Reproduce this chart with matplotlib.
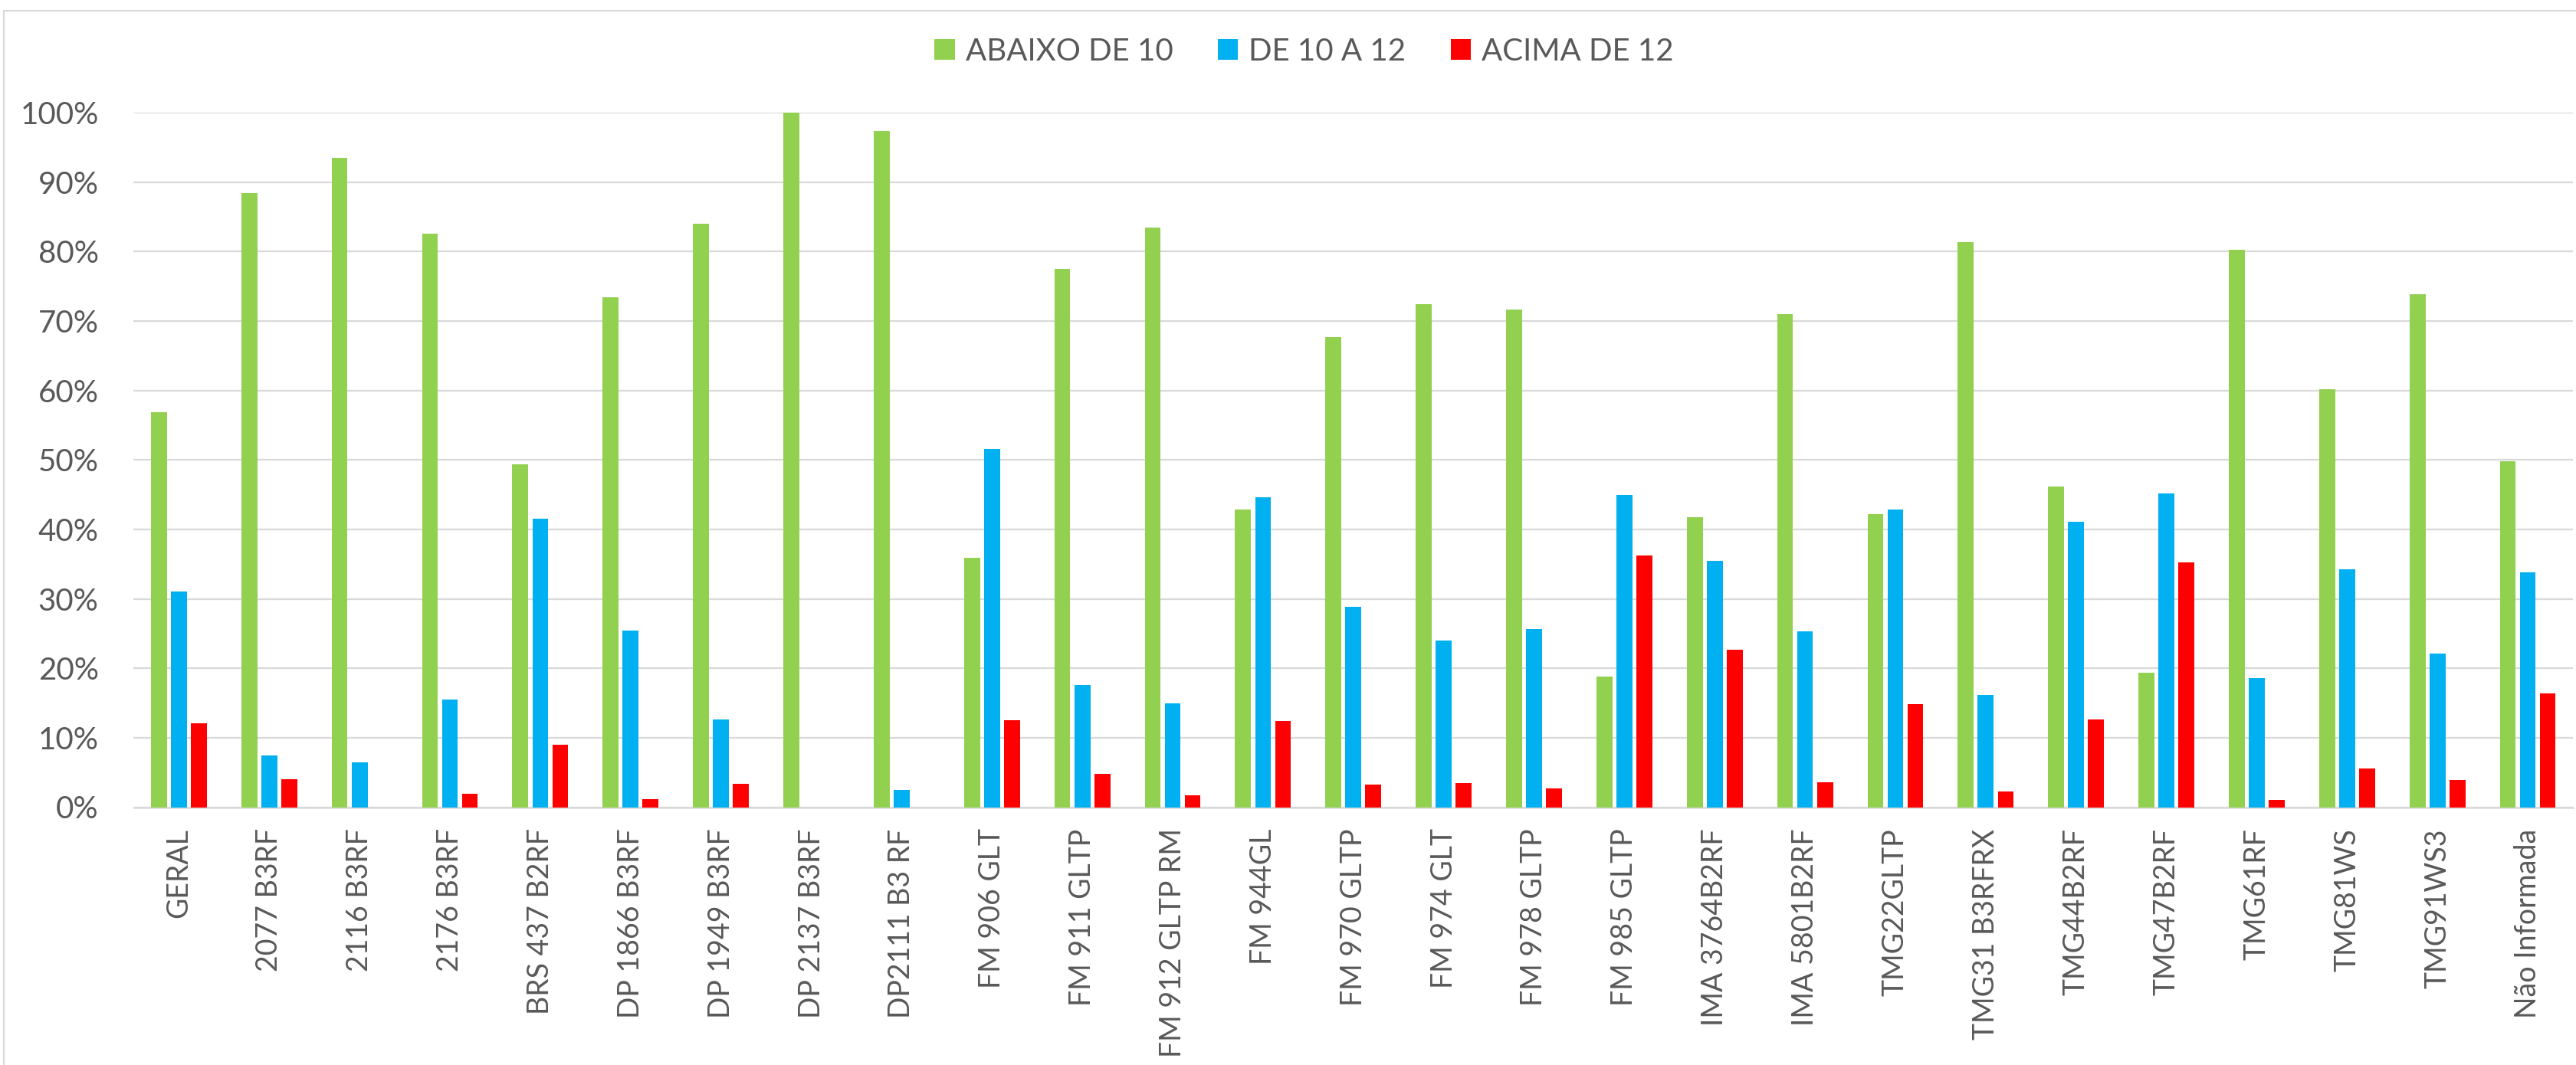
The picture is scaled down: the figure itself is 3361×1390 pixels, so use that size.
import numpy as np
import matplotlib.pyplot as plt
from matplotlib.ticker import PercentFormatter
from matplotlib.patches import Rectangle

plt.rcParams['font.family'] = ['Lato', 'DejaVu Sans']

cultivares = ['GERAL', '2077 B3RF', '2116 B3RF', '2176 B3RF', 'BRS 437 B2RF',
              'DP 1866 B3RF', 'DP 1949 B3RF', 'DP 2137 B3RF', 'DP2111 B3 RF',
              'FM 906 GLT', 'FM 911 GLTP', 'FM 912 GLTP RM', 'FM 944GL',
              'FM 970 GLTP', 'FM 974 GLT', 'FM 978 GLTP', 'FM 985 GLTP',
              'IMA 3764B2RF', 'IMA 5801B2RF', 'TMG22GLTP', 'TMG31 B3RFRX',
              'TMG44B2RF', 'TMG47B2RF', 'TMG61RF', 'TMG81WS', 'TMG91WS3',
              'Não Informada']

abaixo_10 = [0.569, 0.884, 0.935, 0.826, 0.494, 0.734, 0.840, 1.000, 0.974,
             0.359, 0.775, 0.834, 0.429, 0.677, 0.724, 0.716, 0.188,
             0.418, 0.710, 0.422, 0.814, 0.462, 0.194, 0.803, 0.602, 0.739,
             0.498]
de_10_a_12 = [0.310, 0.075, 0.065, 0.155, 0.415, 0.254, 0.126, 0.0, 0.025,
              0.516, 0.176, 0.149, 0.446, 0.289, 0.240, 0.256, 0.449,
              0.355, 0.253, 0.429, 0.162, 0.411, 0.452, 0.186, 0.342, 0.221,
              0.338]
acima_12 = [0.121, 0.040, 0.0, 0.019, 0.090, 0.012, 0.034, 0.0, 0.0,
            0.125, 0.048, 0.017, 0.124, 0.033, 0.035, 0.027, 0.362,
            0.227, 0.036, 0.148, 0.023, 0.126, 0.353, 0.011, 0.056, 0.039,
            0.164]

series = ['ABAIXO DE 10', 'DE 10 A 12', 'ACIMA DE 12']
cores = ['#92D050', '#00B0F0', '#FF0000']

W, H = 3362, 1390
fig = plt.figure(figsize=(W / 100, H / 100), dpi=100)
ax = fig.add_axes([174.5 / W, 1 - 1053.5 / H, (3357 - 174.5) / W, (1053.5 - 147) / H])

x = np.arange(len(cultivares))
larg = 0.176
passo = 0.221
for k, (vals, nome, cor) in enumerate(zip([abaixo_10, de_10_a_12, acima_12], series, cores)):
    ax.bar(x + (k - 1) * passo, vals, larg, color=cor, label=nome, zorder=3)

ax.set_xlim(-0.5, len(cultivares) - 0.5)
ax.set_ylim(0, 1.0)
ax.set_yticks(np.arange(0, 1.01, 0.1))
ax.yaxis.set_major_formatter(PercentFormatter(1.0, decimals=0))
ax.set_xticks(x)
ax.set_xticklabels(cultivares, rotation=90, va='top', ha='center')

ax.grid(axis='y', color='#D9D9D9', lw=1.6, zorder=0)
for s in ['top', 'right', 'left']:
    ax.spines[s].set_visible(False)
ax.spines['bottom'].set_color('#D9D9D9')
ax.spines['bottom'].set_linewidth(1.8)
ax.tick_params(axis='both', length=0, labelcolor='#595959')
ax.tick_params(axis='y', labelsize=29, pad=33)
ax.tick_params(axis='x', labelsize=27, pad=20)

fig.legend(loc='center', bbox_to_anchor=(1701.5 / W, 1 - 67.5 / H), ncol=3,
           frameon=False, fontsize=29, labelcolor='#595959',
           handlelength=0.65, handleheight=0.65, handletextpad=0.35,
           columnspacing=1.45)

# borda da area do grafico
fig.add_artist(Rectangle((5 / W, -0.1), 2, 1 - 14 / H + 0.1, transform=fig.transFigure,
                         fill=False, edgecolor='#D9D9D9', lw=1.5))

fig.savefig('out.png', dpi=100)
